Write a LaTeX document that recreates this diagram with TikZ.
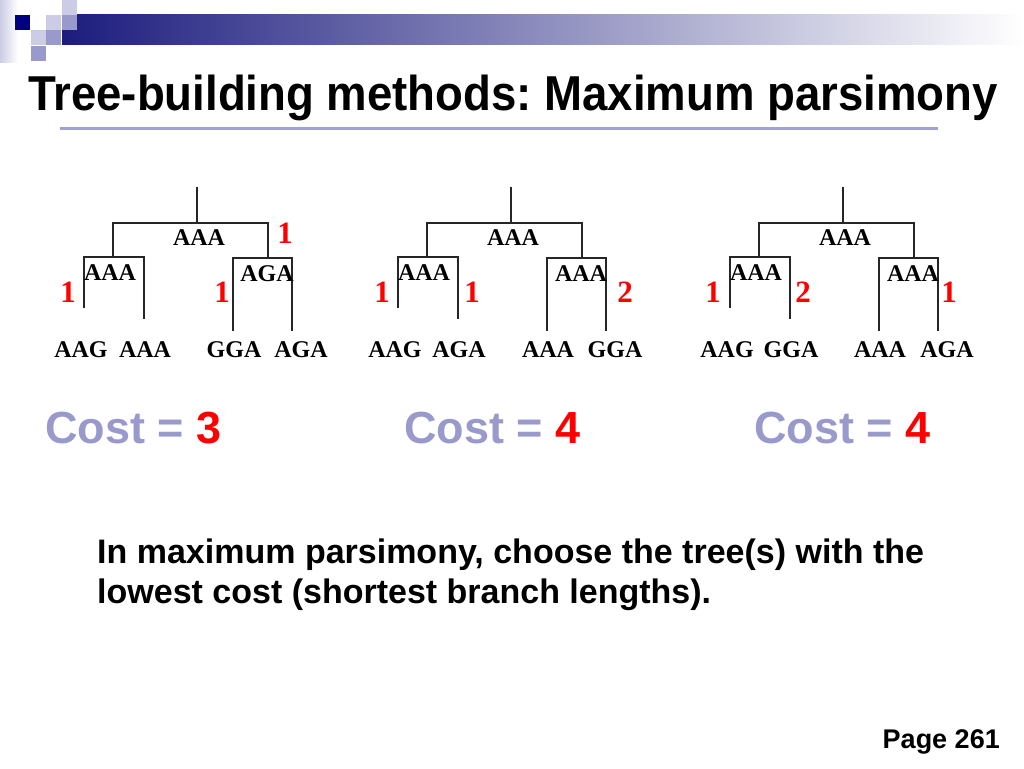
\documentclass[tikz,border=0pt]{standalone}
\usepackage{fontspec}
\setmainfont{Liberation Sans}
\newfontfamily\serifb{Liberation Serif}
\frenchspacing
\definecolor{navy}{HTML}{000080}
\definecolor{lightlav}{HTML}{CCCCE6}
\definecolor{medlav}{HTML}{9999CC}
\definecolor{barnavy}{HTML}{1C1C7E}
\definecolor{costlav}{HTML}{9999CC}
\definecolor{rulelav}{HTML}{A0A0D2}
\definecolor{redc}{HTML}{FF0000}
\tikzset{
  branch/.style={line width=1.2pt, draw=black!85, line cap=rect},
  inlabel/.style={font=\serifb\bfseries\fontsize{24}{28}\selectfont, inner sep=0pt, anchor=base},
  leaflabel/.style={font=\serifb\bfseries\fontsize{24}{28}\selectfont, inner sep=0pt, anchor=base},
  cnt/.style={font=\serifb\bfseries\fontsize{31}{35}\selectfont, text=redc, inner sep=0pt, anchor=base},
  costlabel/.style={font=\bfseries\fontsize{45}{50}\selectfont, text=costlav, inner sep=0pt, anchor=base west},
  bodytext/.style={font=\bfseries\fontsize{34}{40}\selectfont, inner sep=0pt, anchor=base west},
}
% #1 shift, #2 prefix, #3 top, #4 left, #5 right, #6-#9 leaves
\newcommand\onetree[9]{%
\begin{scope}[xshift=#1pt, name prefix=#2-]
  \coordinate (rt) at (197,188);
  \coordinate (r) at (197,223);
  \coordinate (a) at (113,223);
  \coordinate (b) at (268,223);
  \coordinate (a1) at (113,257);
  \coordinate (b1) at (268,258);
  \coordinate (al) at (84,257);
  \coordinate (ar) at (144,257);
  \coordinate (bl) at (233,258);
  \coordinate (br) at (292,258);
  \coordinate (alx) at (84,307);
  \coordinate (arx) at (144,318);
  \coordinate (blx) at (233,330);
  \coordinate (brx) at (292,330);
  \draw[branch] (rt) -- (r);
  \draw[branch] (a1) -- (a) -- (b) -- (b1);
  \draw[branch] (alx) -- (al) -- (ar) -- (arx);
  \draw[branch] (blx) -- (bl) -- (br) -- (brx);
  \node[inlabel] (top) at (199,245) {#3};
  \node[inlabel] (lft) at (110,280) {#4};
  \node[inlabel] (rgt) at (267,281) {#5};
  \node[leaflabel] (l1) at (81,357) {#6};
  \node[leaflabel] (l2) at (145,357) {#7};
  \node[leaflabel] (l3) at (234,357) {#8};
  \node[leaflabel] (l4) at (301,357) {#9};
\end{scope}}
\begin{document}
\begin{tikzpicture}[x=1pt,y=-1pt]
\useasboundingbox (0,0) rectangle (1024,768);
\fill[white] (0,0) rectangle (1024,768);
% header decoration
\shade[left color=lightlav, right color=white] (0,0) rectangle (18,62);
\shade[left color=barnavy, right color=white] (62,15) rectangle (1024,45);
\fill[lightlav] (62,0) rectangle (77,15);
\fill[navy] (15,15) rectangle (30,30);
\fill[lightlav] (46,15) rectangle (61,30);
\fill[medlav] (62,15) rectangle (77,30);
\fill[lightlav] (31,30) rectangle (46,45);
\fill[medlav] (46,30) rectangle (61,45);
\fill[medlav] (31,46) rectangle (46,61);
% title
\node[font=\bfseries\fontsize{49}{55}\selectfont, inner sep=0pt, anchor=base west] (title) at (28,110) {\scalebox{0.93}[1]{Tree-building methods: Maximum parsimony}};
\draw[rulelav, line width=3pt] (60,128) -- (938,128);
% trees
\onetree{0}{t1}{AAA}{AAA}{AGA}{AAG}{AAA}{GGA}{AGA}
\onetree{314}{t2}{AAA}{AAA}{AAA}{AAG}{AGA}{AAA}{GGA}
\onetree{646}{t3}{AAA}{AAA}{AAA}{AAG}{GGA}{AAA}{AGA}
% red branch costs
\node[cnt] (c11) at (285,243) {1};
\node[cnt] (c12) at (68,302) {1};
\node[cnt] (c13) at (222,302) {1};
\node[cnt] (c21) at (382,302) {1};
\node[cnt] (c22) at (472,302) {1};
\node[cnt] (c23) at (625,302) {2};
\node[cnt] (c31) at (713,302) {1};
\node[cnt] (c32) at (803,302) {2};
\node[cnt] (c33) at (949,302) {1};
% totals
\node[costlabel] (cost1) at (45,443) {Cost = \textcolor{redc}{3}};
\node[costlabel] (cost2) at (404,443) {Cost = \textcolor{redc}{4}};
\node[costlabel] (cost3) at (754,443) {Cost = \textcolor{redc}{4}};
% body
\node[bodytext] (body1) at (97,563) {In maximum parsimony, choose the tree(s) with the};
\node[bodytext] (body2) at (97,603) {lowest cost (shortest branch lengths).};
\node[font=\bfseries\fontsize{27}{32}\selectfont, inner sep=0pt, anchor=base east] (page) at (1000,748) {Page 261};
\end{tikzpicture}
\end{document}
